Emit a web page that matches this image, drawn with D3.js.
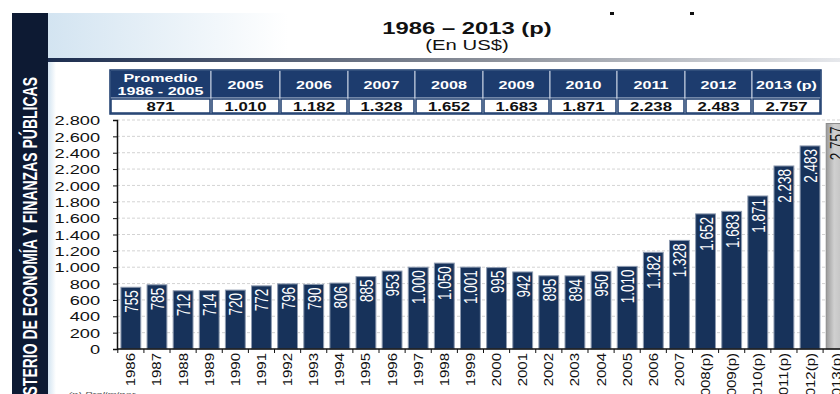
<!DOCTYPE html>
<html>
<head>
<meta charset="utf-8">
<script src="https://cdn.jsdelivr.net/npm/d3@7"></script>
<style>
  body { margin: 0; background: #fff; }
  svg { display: block; font-family: "Liberation Sans", Arial, sans-serif; }
</style>
</head>
<body>
<div class="chart"></div>
<script>
// data
var years = ["1986","1987","1988","1989","1990","1991","1992","1993","1994","1995",
  "1996","1997","1998","1999","2000","2001","2002","2003","2004","2005","2006","2007",
  "2008(p)","2009(p)","2010(p)","2011(p)","2012(p)","2013(p)"];
var values = [755,785,712,714,720,772,796,790,806,885,953,1000,1050,1001,995,942,895,894,
  950,1010,1182,1328,1652,1683,1871,2238,2483,2757];
var tableHeads = [["Promedio","1986 - 2005"],["2005"],["2006"],["2007"],["2008"],["2009"],
  ["2010"],["2011"],["2012"],["2013 (p)"]];
var tableValues = [871,1010,1182,1328,1652,1683,1871,2238,2483,2757];
var yTicks = [0,200,400,600,800,1000,1200,1400,1600,1800,2000,2200,2400,2600,2800];

document.addEventListener("DOMContentLoaded", function () {
    var w = 840, h = 394;
    var sx = 1.4; // the original picture is stretched sideways
    var loc = d3.formatLocale({decimal: ",", thousands: ".", grouping: [3], currency: ["", ""]});
    var fmt = loc.format(",d");

    var svg = d3.select(".chart").append("svg")
        .attr("width", w).attr("height", h);

    // text stretched horizontally around its anchor
    function wideText(parent, x, y, anchor) {
        return parent.append("text")
            .attr("transform", "translate(" + x + "," + y + ") scale(" + sx + ",1)")
            .attr("text-anchor", anchor || "middle");
    }

    var defs = svg.append("defs");
    var g1 = defs.append("linearGradient").attr("id", "rule");
    g1.append("stop").attr("offset", "0%").attr("stop-color", "#1c2d4f");
    g1.append("stop").attr("offset", "55%").attr("stop-color", "#8a8f99");
    g1.append("stop").attr("offset", "100%").attr("stop-color", "#e6e8ec");
    var g2 = defs.append("linearGradient").attr("id", "pale");
    g2.append("stop").attr("offset", "0%").attr("stop-color", "#d3e4f1");
    g2.append("stop").attr("offset", "100%").attr("stop-color", "#ffffff");
    var g3 = defs.append("linearGradient").attr("id", "grey");
    g3.append("stop").attr("offset", "0%").attr("stop-color", "#9a9a9a");
    g3.append("stop").attr("offset", "40%").attr("stop-color", "#d0d0d0");
    g3.append("stop").attr("offset", "100%").attr("stop-color", "#bdbdbd");

    // background pieces
    svg.append("rect").attr("x", 48).attr("y", 13).attr("width", 240).attr("height", 46)
        .attr("fill", "url(#pale)");
    svg.append("rect").attr("x", 48).attr("y", 60).attr("width", 8).attr("height", 334)
        .attr("fill", "url(#pale)");
    svg.append("rect").attr("x", 12).attr("y", 13).attr("width", 36).attr("height", 381)
        .attr("fill", "#0d1a33");
    svg.append("rect").attr("x", 48).attr("y", 58).attr("width", 792).attr("height", 4)
        .attr("fill", "url(#rule)");

    svg.append("text")
        .attr("transform", "translate(37,425) rotate(-90)")
        .attr("text-anchor", "start")
        .attr("fill", "#fff")
        .attr("font-weight", "bold")
        .attr("font-size", 20)
        .attr("textLength", 348)
        .attr("lengthAdjust", "spacingAndGlyphs")
        .text("MINISTERIO DE ECONOMÍA Y FINANZAS PÚBLICAS");

    // cut-off title remnants
    svg.selectAll(".dot").data([610, 690]).enter().append("rect")
        .attr("x", function (d) { return d; }).attr("y", 12)
        .attr("width", 4).attr("height", 3).attr("fill", "#111");

    wideText(svg, 467, 34).attr("font-weight", "bold").attr("font-size", 17).attr("fill", "#111")
        .text("1986 – 2013 (p)");
    wideText(svg, 467, 50).attr("font-size", 14.5).attr("fill", "#111")
        .text("(En US$)");

    // table
    var colEdges = [110, 211, 280, 348, 415, 483, 550, 617, 685, 752, 821];
    var tbl = svg.append("g");
    tableHeads.forEach(function (hd, i) {
        var x0 = colEdges[i], x1 = colEdges[i + 1], cx = (x0 + x1) / 2;
        tbl.append("rect").attr("x", x0).attr("y", 70).attr("width", x1 - x0).attr("height", 28)
            .attr("fill", "#1d3c6e").attr("stroke", "#c9d3e3").attr("stroke-width", 1);
        if (hd.length > 1) {
            wideText(tbl, cx, 82).attr("fill", "#fff").attr("font-weight", "bold")
                .attr("font-size", 11.5).text(hd[0]);
            wideText(tbl, cx, 95).attr("fill", "#fff").attr("font-weight", "bold")
                .attr("font-size", 11.5).text(hd[1]);
        } else {
            wideText(tbl, cx, 89).attr("fill", "#fff").attr("font-weight", "bold")
                .attr("font-size", 11.5).text(hd[0]);
        }
        tbl.append("rect").attr("x", x0 + 1).attr("y", 99).attr("width", x1 - x0 - 2).attr("height", 14)
            .attr("fill", "#fff").attr("stroke", "#1d3c6e").attr("stroke-width", 1.5);
        wideText(tbl, cx, 110.5).attr("font-weight", "bold").attr("font-size", 12)
            .attr("fill", "#111").text(fmt(tableValues[i]));
    });
    tbl.append("rect").attr("x", 110).attr("y", 70).attr("width", 711).attr("height", 44)
        .attr("fill", "none").attr("stroke", "#1d3c6e").attr("stroke-width", 1.5);

    // scales
    var x = d3.scaleBand().domain(years).range([117, 850])
        .paddingInner(0.24).paddingOuter(0.15);
    var y = d3.scaleLinear().domain([0, 2800]).range([349, 120]);

    // grid
    svg.append("g").selectAll("line").data(yTicks.slice(1)).enter().append("line")
        .attr("x1", 117).attr("x2", 840)
        .attr("y1", function (d) { return y(d); }).attr("y2", function (d) { return y(d); })
        .attr("stroke", "#c8c8c8").attr("stroke-dasharray", "3,2").attr("stroke-width", 0.8);

    // bars
    var last = years.length - 1;
    svg.append("g").selectAll("rect").data(values).enter().append("rect")
        .attr("x", function (d, i) { return x(years[i]); })
        .attr("y", function (d) { return y(d); })
        .attr("width", x.bandwidth())
        .attr("height", function (d) { return y(0) - y(d); })
        .attr("fill", function (d, i) { return i === last ? "url(#grey)" : "#17325a"; })
        .attr("stroke", function (d, i) { return i === last ? "#8c8c8c" : "#8e9bb0"; })
        .attr("stroke-width", 1);

    svg.append("g").selectAll("text").data(values).enter().append("text")
        .attr("transform", function (d, i) {
            return "translate(" + (x(years[i]) + x.bandwidth() / 2 + 7) + "," + (y(d) + 3) +
                ") scale(" + sx + ",1) rotate(-90)";
        })
        .attr("text-anchor", "end")
        .attr("font-size", 13.5)
        .attr("fill", function (d, i) { return i === last ? "#111" : "#fff"; })
        .text(function (d) { return fmt(d); });

    // axes
    var yAxis = d3.axisLeft(y).tickValues(yTicks).tickSize(4).tickFormat(fmt);
    var ya = svg.append("g").attr("transform", "translate(117,0)").call(yAxis);
    ya.selectAll("text").attr("font-size", 13).attr("fill", "#111")
        .attr("font-family", "'Liberation Sans', Arial, sans-serif")
        .attr("x", -17 / sx).attr("dy", "0.36em")
        .attr("transform", "scale(" + sx + ",1)");
    ya.select(".domain").attr("stroke", "#111").attr("stroke-width", 1.5);
    ya.selectAll(".tick line").attr("stroke", "#111");

    var xa = svg.append("g").attr("transform", "translate(0,349)");
    xa.append("line").attr("x1", 117).attr("x2", 840).attr("stroke", "#111").attr("stroke-width", 1.5);
    xa.selectAll(".tk").data(years).enter().append("line")
        .attr("x1", function (d) { return x(d) - x.step() * x.paddingInner() / 2; })
        .attr("x2", function (d) { return x(d) - x.step() * x.paddingInner() / 2; })
        .attr("y1", 0).attr("y2", 4).attr("stroke", "#111");
    xa.selectAll("text").data(years).enter().append("text")
        .attr("transform", function (d) {
            return "translate(" + (x(d) + x.bandwidth() / 2 + 4.5) + ",4) rotate(-90) scale(1.25,1)";
        })
        .attr("text-anchor", "end")
        .attr("font-size", 12).attr("fill", "#111")
        .text(function (d) { return d; });

    wideText(svg, 68, 397, "start").attr("font-size", 8)
        .attr("font-style", "italic").attr("fill", "#555").text("(p) Preliminar");
});
</script>
</body>
</html>
